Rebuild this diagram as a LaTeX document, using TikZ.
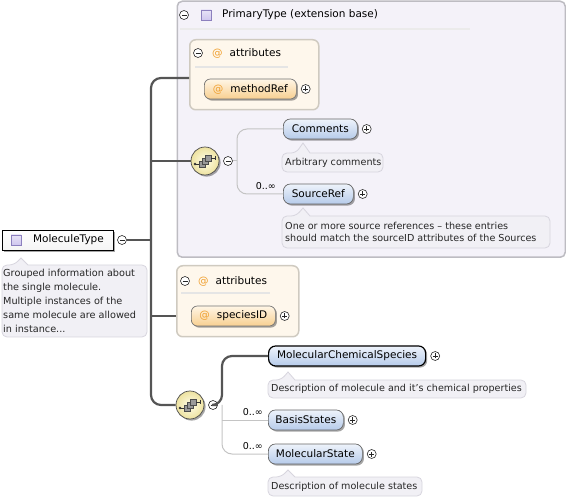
\documentclass[tikz,border=0pt]{standalone}
\usepackage{fontspec}
\setmainfont{DejaVu Sans}
\usetikzlibrary{shadows}
\definecolor{boxfill}{HTML}{F4F2F9}
\definecolor{boxline}{HTML}{BDBCC2}
\definecolor{attrfill}{HTML}{FEF7EC}
\definecolor{attrline}{HTML}{CFCAC0}
\definecolor{eltop}{HTML}{EEF3FB}
\definecolor{elbot}{HTML}{B6CBEA}
\definecolor{attop}{HTML}{FFF6E6}
\definecolor{atbot}{HTML}{F8CF90}
\definecolor{cmtfill}{HTML}{F1F0F5}
\definecolor{cmtline}{HTML}{D7D5DE}
\definecolor{seqtop}{HTML}{FFFDE8}
\definecolor{seqbot}{HTML}{EDE2A0}
\definecolor{sqfill}{HTML}{CFC6EE}
\definecolor{sqline}{HTML}{8C80BE}
\definecolor{trunkc}{HTML}{555555}
\definecolor{thinc}{HTML}{C4C4C4}
\definecolor{atsign}{HTML}{F0A030}
\newcommand\lblfont{\fontsize{10.5}{12}\selectfont}
\newcommand\cmtfont{\fontsize{9.6}{12}\selectfont}
\newcommand\bubble[6]{\draw[cmtline, fill=cmtfill, line width=0.8pt] (#5-7,#2) -- (#5,#6) -- (#5+7,#2) [rounded corners=5pt] -- (#3,#2) -- (#3,#4) -- (#1,#4) -- (#1,#2) -- cycle;}
\newcommand\atsym{\textcolor{atsign}{@}\hspace{7pt}}
\begin{document}
\begin{tikzpicture}[x=1pt,y=-1pt,
  shadowed/.style={drop shadow={shadow xshift=1.6pt, shadow yshift=-1.6pt, opacity=0.35, fill=black}},
  elem/.style={draw=black!60, line width=0.7pt, rounded corners=7pt, top color=eltop, bottom color=elbot, minimum height=20pt, inner sep=0pt, anchor=west, font=\lblfont, shadowed},
  attrel/.style={draw=black!55, line width=0.7pt, rounded corners=6pt, top color=attop, bottom color=atbot, minimum height=20pt, inner sep=0pt, anchor=west, font=\lblfont, shadowed},
  pm/.style={circle, draw=black!85, fill=white, minimum size=9pt, inner sep=0pt, line width=0.6pt},
  minus/.style={pm, path picture={\draw[line width=0.7pt] (path picture bounding box.center) ++(-2.5pt,0) -- ++(5pt,0);}},
  plus/.style={pm, path picture={\draw[line width=0.7pt] (path picture bounding box.center) ++(-2.5pt,0) -- ++(5pt,0) (path picture bounding box.center) ++(0,-2.5pt) -- ++(0,5pt);}},
  sq/.style={draw=sqline, top color=sqfill!50, bottom color=sqfill, minimum size=10pt, inner sep=0pt, line width=0.6pt},
  seq/.style={circle, minimum size=28pt, inner sep=0pt, draw=black!70, line width=0.7pt, inner color=seqtop, outer color=seqbot, shadowed},
  trunk/.style={draw=trunkc, line width=2.2pt, rounded corners=10pt},
  thinl/.style={draw=thinc, line width=1pt, rounded corners=10pt},
  cmt/.style={inner sep=0pt, font=\cmtfont, align=left, text=black!85},
  lbl/.style={inner sep=0pt, font=\lblfont},
  mult/.style={inner sep=0pt, font=\fontsize{9.5}{10}\selectfont, anchor=east},
  seqicon/.pic={
    \draw[black!80, line width=0.6pt] (-10,3) -- (-6,3);
    \fill[black!80] (-10,3) circle (1.3);
    \draw[black!70, fill=black!40, line width=0.5pt] (-6,0) rectangle (0,6);
    \draw[black!70, fill=black!40, line width=0.5pt] (-3,-3) rectangle (3,3);
    \draw[black!70, fill=black!40, line width=0.5pt] (0,-6) rectangle (6,0);
    \draw[black!80, line width=0.6pt] (6,-3) -- (10,-3) (10,-5) -- (10,-1);
  }
]
\useasboundingbox (0,0) rectangle (566,500);

% extension base box
\node[draw=boxline, line width=1.5pt, fill=boxfill, rounded corners=5pt, minimum width=388pt, minimum height=256pt, anchor=north west, inner sep=0pt] (ext) at (176.5,0.5) {};
\node[minus] (extm) at (184,15) {};
\node[sq] (extsq) at (206,15) {};
\node[lbl, anchor=west] (extl) at (222,15) {PrimaryType (extension base)};
\draw[black!8, line width=2pt] (180,29) -- (470,29);

% attributes box 1
\node[draw=attrline, line width=1.5pt, fill=attrfill, rounded corners=6pt, minimum width=129pt, minimum height=70pt, anchor=north west, inner sep=0pt] (a1) at (189,39) {};
\node[minus] (a1m) at (198,53) {};
\node[lbl, anchor=west] (a1l) at (212,53) {\atsym attributes};
\draw[black!10, line width=2pt] (195,67) -- (288,67);
\node[attrel, minimum width=92pt] (mref) at (204,89) {\atsym methodRef};
\node[plus] (mrefp) at ([xshift=9pt]mref.east) {};

% sequence 1
\node[seq] (s1) at (205,161) {};
\pic at (s1) {seqicon};
\node[minus] (s1m) at (228,161) {};
\node[elem, minimum width=74pt] (com) at (283,129) {Comments};
\node[plus] (comp) at ([xshift=9pt]com.east) {};
\node[elem, minimum width=70pt] (src) at (283,194) {SourceRef};
\node[plus] (srcp) at ([xshift=9pt]src.east) {};
\node[mult] (srcmult) at (276,186) {0..∞};
\draw[thinl] (s1m.east) -- (237,161);
\draw[thinl] (com.west) -- (237,129) -- (237,194) -- (src.west);
\bubble{282}{153}{383}{172}{303}{143}
\node[cmt, anchor=west] (comc) at (285,162.5) {Arbitrary comments};
\bubble{282}{216}{550}{248}{303}{208}
\node[cmt, anchor=west] (srcc) at (285,232) {One or more source references -- these entries\\should match the sourceID attributes of the Sources};

% MoleculeType
\node[draw=black, line width=0.9pt, top color=white, bottom color=black!4, minimum width=111pt, minimum height=20pt, inner sep=0pt, anchor=west, font=\lblfont, shadowed] (mt) at (2,240) {\hspace*{21pt}MoleculeType};
\node[sq] (mtsq) at (16,240) {};
\node[minus] (mtm) at (122,240) {};
\bubble{2}{265}{147}{337}{21}{258}
\node[cmt, anchor=west, font=\fontsize{9.7}{14}\selectfont] (mtc) at (3,301) {Grouped information about\\the single molecule.\\Multiple instances of the\\same molecule are allowed\\in instance...};

% attributes box 2
\node[draw=attrline, line width=1.5pt, fill=attrfill, rounded corners=6pt, minimum width=122pt, minimum height=71pt, anchor=north west, inner sep=0pt] (a2) at (176,265) {};
\node[minus] (a2m) at (185,281) {};
\node[lbl, anchor=west] (a2l) at (198,281) {\atsym attributes};
\draw[black!10, line width=2pt] (181,293) -- (270,293);
\node[attrel, minimum width=84pt] (spid) at (191,316) {\atsym speciesID};
\node[plus] (spidp) at ([xshift=9pt]spid.east) {};

% sequence 2
\node[seq] (s2) at (190,405) {};
\pic at (s2) {seqicon};
\node[minus] (s2m) at (213,405) {};
\node[elem, draw=black, line width=1.2pt, minimum width=157pt] (mcs) at (268,356) {MolecularChemicalSpecies};
\node[plus] (mcsp) at ([xshift=9pt]mcs.east) {};
\bubble{268}{380}{526}{398}{288}{372}
\node[cmt, anchor=west] (mcsc) at (271,389) {Description of molecule and it's chemical properties};
\node[elem, minimum width=75pt] (bs) at (268,420) {BasisStates};
\node[plus] (bsp) at ([xshift=9pt]bs.east) {};
\node[mult] (bsmult) at (263,412) {0..∞};
\node[elem, minimum width=94pt] (ms) at (268,454) {MolecularState};
\node[plus] (msp) at ([xshift=9pt]ms.east) {};
\node[mult] (msmult) at (263,446) {0..∞};
\bubble{268}{477}{422}{496}{288}{470}
\node[cmt, anchor=west] (msc) at (271,486.5) {Description of molecule states};
\draw[thinl] (222,405) -- (222,454) -- (ms.west);
\draw[thinl] (222,420) -- (bs.west);
\draw[trunk] (s2m.east) -- (222,405) -- (222,356) -- (mcs.west);

% main trunk
\coordinate (a1in) at (189,78);
\coordinate (a2in) at (176,316);
\draw[trunk] (a1in) -- (151,78) -- (151,405) -- (s2.west);
\draw[trunk] (mtm.east) -- (151,240);
\draw[trunk] (151,161) -- (s1.west);
\draw[trunk] (151,316) -- (a2in);
\end{tikzpicture}
\end{document}
